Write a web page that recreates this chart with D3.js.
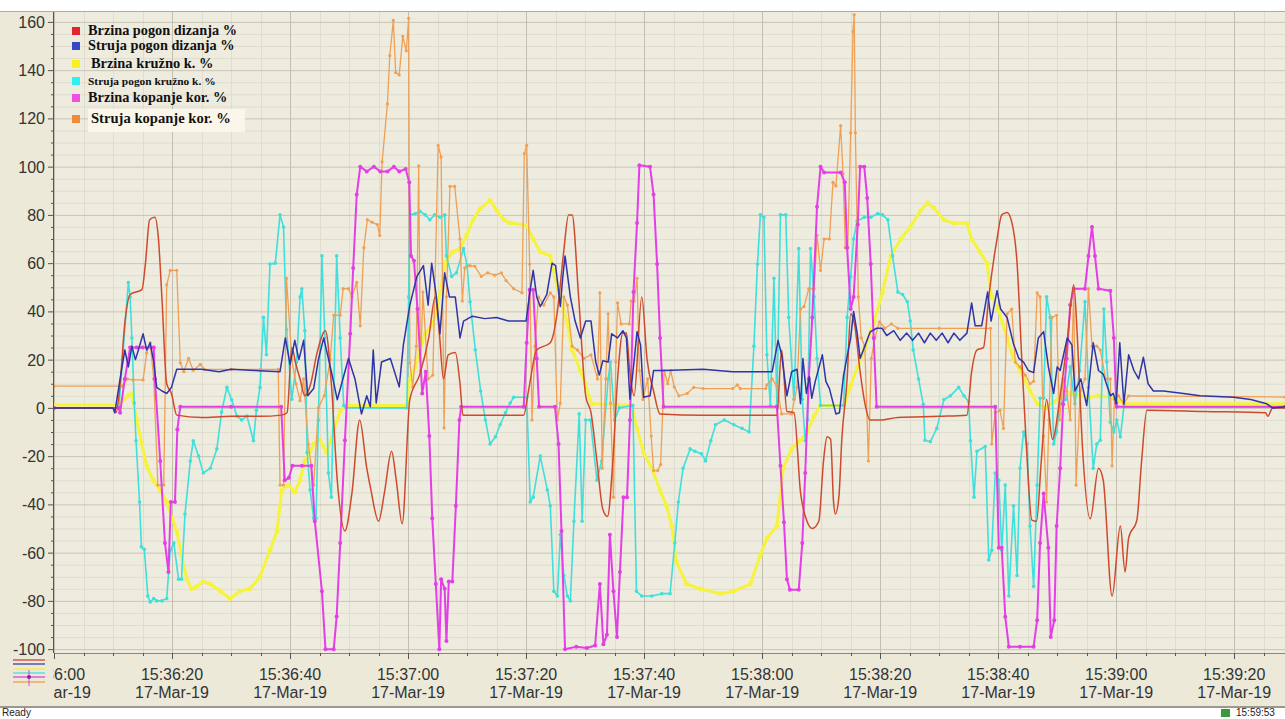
<!DOCTYPE html>
<html>
<head>
<meta charset="utf-8">
<script src="https://d3js.org/d3.v7.min.js"></script>
<style>
  body { margin: 0; background: #ece9d8; overflow: hidden; }
  svg { display: block; }
  .tick-label { font-family: "Liberation Sans", Arial, sans-serif; font-size: 16px; fill: #333; }
  .status-label { font-family: "Liberation Sans", Arial, sans-serif; font-size: 10px; fill: #222; }
  .legend-text { font-family: "Liberation Serif", "Times New Roman", serif; font-weight: bold; fill: #111; }
</style>
</head>
<body>
<svg width="1285" height="719"></svg>
<script>
// series names (legend order)
const seriesNames = [
  "Brzina pogon dizanja %",
  "Struja pogon dizanja %",
  "Brzina kružno k. %",
  "Struja pogon kružno k. %",
  "Brzina kopanje kor. %",
  "Struja kopanje kor. %"
];

// [seconds after 15:36:00, value %]
const brzinaDizanja = [[0,0],[10,0],[10.5,-2],[11.2,10],[12,35],[12.9,47],[14.9,49],[15.5,60],[16.2,78],[17.1,79],[17.7,70],[18.3,45],[19.1,10],[19.9,6],[20.8,-3],[25,-4],[30,-3.5],[35,-3.5],[38.5,-3],[39.5,-2],[40.3,25],[41,18],[41.7,12],[42.5,5],[43.5,10],[44.5,22],[46,32],[47,10],[48,-30],[49.3,-51],[50.5,-35],[51.8,-5],[53,-25],[53.7,-34],[55,-47],[56,-35],[57.2,-18],[58,-30],[59,-48],[60.3,3.5],[62,14],[63.5,29],[64.6,46],[65.3,31],[66,12],[66.8,22],[68,23],[68.8,10],[69.3,-3],[75,-3],[79.6,-3],[80.4,7],[81.8,24],[84.1,27],[85.3,40],[86.3,63],[87.2,80],[87.8,80],[88.9,46],[90.1,5],[91,-2],[92,-22],[93,-42],[93.8,-45],[94.7,-22],[95.5,12],[96.4,31],[97,31],[97.5,17],[98.3,5],[99.6,46],[100.5,20],[101.6,7],[102.7,-2.5],[110,-3],[122.5,-3],[123.3,24],[124.2,-1.5],[125.4,-2],[126.5,-35],[127.6,-47],[128.5,-50],[129.6,-47],[130.4,-22],[131,-12],[131.6,-13],[132.1,-39],[132.4,-44],[133,-37],[133.5,-13],[134.4,12],[135,39],[135.7,34],[136.6,15],[137.4,2],[138.3,-5],[140,-5],[143,-4],[150,-3.5],[154.7,-3],[155.5,15],[156.4,24],[157.5,25],[158.4,46],[159.8,70],[160.6,80],[161.5,81],[162.3,77],[163.2,60],[164,20],[164.8,-17],[165.7,-46.5],[166.5,-47],[167.3,-22],[168.2,3.5],[169.2,-13],[170.5,5],[171.8,30],[172.8,51],[173.4,30],[174.2,-13],[175.6,-46],[177,-25],[177.8,-30],[179.3,-78],[180.7,-49],[181.5,-68],[182.1,-54],[183.5,-46.5],[184.3,-22],[185.2,-1],[195,-1.5],[205.3,-2],[205.7,-3.5],[206.5,0],[208.6,0]];

const strujaDizanja = [[0,0],[10,0],[10.3,-2],[11.2,12],[12,24],[12.6,17],[13.2,25.6],[13.8,20],[14.3,24],[15.1,30.7],[15.7,24],[16.3,27],[16.9,19],[17.4,8.5],[18.3,7],[19.1,6],[19.9,8.5],[20.8,16],[25,16],[28,15],[30,16],[34,15.5],[38.3,15],[39.2,29],[40,18],[40.8,28],[41.5,20],[42.3,28],[43,5],[44,8],[44.8,20],[45.7,29],[47,15],[48,3.4],[49.9,20.5],[51,12],[52.1,-2.5],[53,5],[53.6,0.5],[54.1,24],[54.6,2],[55.5,19],[57,20.5],[58.5,8.7],[59.2,26],[60.3,42.6],[61.5,54.5],[62.6,59],[63.4,42.6],[64,60],[64.8,46],[65.4,30.7],[66.2,56],[67,46],[68,46],[68.8,29],[69.4,36],[70.9,38],[73,37],[75,37.5],[77,36],[80,36],[80.7,49],[81.2,57],[81.8,46],[82.4,42],[83.5,47],[84.4,60],[85,59],[85.8,42],[86.2,54],[86.6,63],[87.5,46],[88.3,36],[89.2,29],[90.1,36],[91,36],[91.8,19],[92.4,13.6],[93,19.5],[93.9,19],[94.5,30.7],[95.5,29],[96.4,32],[97,29],[97.6,3.6],[98.2,17],[98.8,31.6],[99.4,26],[99.9,4.4],[101,5],[101.6,15.5],[103.3,15.5],[110,16],[115,15],[120.8,15],[121.7,15],[122.7,28],[123.3,22],[124.2,5],[125,15],[125.9,16],[126.5,1.7],[126.9,20.5],[127.5,6],[128,13],[128.4,4],[129,11],[130.2,22],[130.8,11],[131.4,8],[132.5,-2.5],[133.1,-2],[133.8,13.6],[135,29],[135.5,40],[136.1,31],[136.6,20.5],[137.4,25.6],[138.3,31.5],[139.4,33],[140.3,33],[141.1,30],[142.3,32],[143.4,28],[144.5,31],[145.5,28],[146.5,31],[147.5,27],[148.5,31],[149.5,28],[150.5,31],[151.5,27],[152.5,31],[153.5,28],[154.7,31],[155.5,43.5],[156.1,34],[157.2,34],[158.2,48],[158.8,36],[159.8,48.6],[160.4,41],[161.5,37.5],[162.6,26.5],[163.5,20.5],[164.3,19],[165.1,15.5],[166,14.6],[166.8,29],[167.7,31.6],[168.5,17],[169.4,6],[170,17],[170.5,15.5],[171.7,29],[172.5,26],[173,7],[174,12],[175,1],[176.1,27],[177,15.5],[177.8,14],[179,5],[179.5,6],[180,1.7],[180.6,27],[181.3,1.5],[182.1,22],[183,15.5],[183.8,12],[184.6,21],[185.4,10],[186.3,7],[188,7],[191.4,6],[194.2,5],[199.9,4.4],[202.8,3.5],[205.5,1.7],[206.5,0],[208.6,0.5]];

const brzinaKruzno = [[0,1.2],[11,1.2],[12.6,5],[13.2,6],[14,-5],[14.9,-15],[15.7,-24],[16.8,-30],[18,-34],[19.1,-39],[20,-45.7],[20.8,-51],[21.6,-61],[22.5,-71],[23.3,-75],[24.2,-74],[25.3,-72],[26.5,-73],[28.2,-76],[29.8,-79],[31.5,-76],[33.2,-75],[34.9,-70],[36.6,-59],[37.8,-51],[38.6,-34],[39.7,-32],[40.8,-35],[41.7,-30],[42.5,-22],[43.4,-18],[44,-15],[45,-13],[46.2,-18.5],[47.3,-10],[48.5,-1.5],[49.3,1],[59.8,1],[60.3,12],[61.2,17],[62,24],[62.9,30.7],[63.9,34],[64.8,39],[65.9,54.5],[66.5,61],[67.6,64.7],[68.8,66],[69.9,71.5],[71,78],[72.2,82.5],[73.9,86],[75,82],[76.2,78],[77.3,76.6],[80.1,75.7],[81.2,70],[82.4,64.7],[84.1,63],[85.3,50],[86.9,36],[87.8,24],[89.2,15.5],[90,10],[91.1,1.7],[97.9,1],[98.8,-8.5],[99.9,-18.5],[101.3,-25],[102.7,-34],[103.8,-40.6],[104.7,-49],[105.5,-64],[107.2,-73],[109.5,-75],[112.9,-77],[115.2,-76],[118,-73],[119.7,-61],[120.8,-54],[122.5,-49],[123.6,-25],[125,-17],[126.5,-13.4],[127.6,-10],[128.8,-3.4],[129.9,1],[133.9,1],[135,9.5],[136.2,17],[137.3,24],[139,36],[140.4,48],[141.8,63],[143.5,70],[145.1,75],[146.8,81.5],[148,85],[149.1,83],[150.8,78],[152.5,76.5],[154.7,76.5],[155.5,70],[156.9,64.7],[158.1,60],[158.9,46],[160,41],[161.5,29],[162.6,20.5],[163.7,15.5],[165.4,7],[166.6,1.7],[168,0],[169.4,2.5],[170.5,4.4],[172.2,6],[173.9,5],[175.5,4.4],[177,5],[179,4.4],[180.5,3],[181.5,1.7],[208.6,1.7]];

const strujaKruzno = [[0,0],[11,0],[11.6,20],[12.6,52],[12.9,46],[13.2,29],[13.6,2],[13.9,-13.6],[14.5,-39],[14.8,-57.6],[15.3,-58.6],[15.9,-78],[16.3,-80.5],[16.9,-79],[17.4,-80],[18.3,-80],[19.1,-79],[19.7,-59],[20.3,-56],[21.1,-71],[21.6,-71],[22.2,-44],[23.1,-22],[23.6,-13.6],[24.5,-20],[25.3,-27],[26.5,-25],[27.6,-17],[28.4,-1.7],[29.3,8.5],[30.1,3.4],[31,-3.4],[31.8,-5],[32.7,-3.4],[33.8,-13.6],[34.3,-1],[34.9,8.5],[35.5,37.5],[36,22],[36.6,59.6],[37.5,60],[38.3,80],[38.9,75],[39.4,32.4],[40.3,3.6],[41.1,19],[41.7,46],[42,49.4],[42.5,32],[42.9,-18.5],[43.4,-34],[44,-45.7],[44.4,-45.7],[44.8,-5],[45.4,63],[45.9,29],[46.5,-27],[47,-37],[47.9,63],[48.5,29],[49.1,1],[49.5,0],[59.8,0],[60.1,46],[60.3,80],[61.2,80.5],[62,81.5],[62.9,80],[63.7,78],[64.5,80],[65.4,79],[66.2,80],[66.5,63],[67.4,54.5],[68.2,56],[69.4,66],[70,59],[70.5,44],[71.4,24],[72.3,7],[73.1,-5],[73.9,-15],[74.8,-12],[75.6,-7],[76.5,-2],[77.3,2],[77.9,4.4],[80.1,4.4],[80.7,-39],[81.2,-37],[82.4,-20],[83.6,-34],[84.1,-40.6],[84.7,-76],[85.3,-78],[85.8,-52.5],[86.4,-69.5],[87,-78],[87.5,-80],[88.1,-47],[89,-2.5],[89.5,-47],[90.1,-5],[90.9,-5],[92,-30],[92.8,-22],[93.9,12],[94.3,19],[95,-5],[95.8,0],[98.1,1],[98.7,-76],[99.6,-78],[101.3,-78],[103,-77],[104.4,-77],[105.2,-56],[105.8,-39],[106.6,-25],[107.8,-17],[108.6,-18],[109.7,-19],[110.4,-22],[111.3,-13.6],[112.1,-7],[113.6,-5],[115.2,-7],[116.6,-8.5],[117.8,-10],[118.6,25.6],[119.2,59.6],[119.7,80],[120.3,79],[120.8,22],[121.4,1],[122,53.7],[122.5,1],[123.1,80],[124,80],[124.5,37.5],[125.4,3.6],[126.2,66],[126.8,3.6],[127.3,-13.6],[127.7,-5],[128.2,66],[128.8,46],[129.3,20.5],[129.9,1],[133.8,1],[134.4,37.5],[135,54.5],[135.5,70],[136.1,77.5],[137.3,79],[138.4,79],[139.6,80.6],[140.4,80],[141.3,78],[142.1,63],[143,48],[143.8,47],[144.6,44],[145.1,36],[145.6,24],[146.5,12],[147.3,1.5],[147.6,-13.4],[148.5,-14],[149.6,-8.5],[150.8,3.5],[151.9,5],[153.3,8.5],[154.2,5],[155,2.5],[155.3,-13.6],[155.9,-37],[156.4,-18],[157.8,-16],[158.4,-63],[158.9,-59],[159.5,-27],[160.1,-30],[160.6,-59],[161.2,-32],[161.8,-78],[162.6,-40.6],[163.2,-69.5],[163.7,-25],[164.3,-10],[164.9,-15],[165.4,-49],[166,-74],[166.6,-32],[167.1,4],[167.7,4],[168.2,46],[168.8,37.5],[169.4,-15],[169.9,-10],[170.5,1.7],[171.4,3.5],[172.2,17],[173,1.7],[173.8,15.5],[174.7,44],[175.3,8.5],[176.1,-25],[176.7,-15],[177.3,-13.4],[177.9,41],[178.4,19],[179,-6],[179.6,-10],[180.1,-5],[180.7,-12],[181.3,0.5],[208.6,0.5]];

const brzinaKopanje = [[0,0],[11,0],[11.2,-2],[12,12],[12.9,25],[14,25],[15,25],[16.9,25],[17.1,12],[18,-22],[18.8,-56],[19.4,-68],[19.8,-39],[20.5,-39],[20.9,-9],[21.4,0.5],[30,0.5],[38.5,0.5],[39.1,-30],[39.8,-29],[40.4,-24],[42,-24],[43.6,-24],[44.2,-47],[45.4,-76],[46,-100],[47.4,-100],[47.9,-86.5],[48.5,-56],[49.3,-13.4],[50.2,30.7],[50.7,58],[51.3,88.5],[51.9,100],[53,98],[54.2,100],[55.3,98],[56.5,98],[57.6,100],[58.5,98],[59.6,99],[60.2,93.5],[60.5,63],[61,61],[61.6,41],[62.4,6],[63,15],[63.6,-11.7],[64.1,-45.7],[64.7,-73],[65.3,-100],[65.6,-71],[66.2,-75],[66.5,-96.6],[66.9,-72],[67.5,-72],[68.1,-40.6],[68.7,-5],[69,0.5],[79.6,0.5],[80.1,27],[80.6,49],[81.2,49],[81.8,20.5],[82.2,0.5],[84.9,0.5],[85.5,-15],[86,-51],[86.6,-100],[88.5,-99],[90.3,-99.5],[91.7,-98.5],[92.5,-73],[93.1,-98],[93.7,-94],[94.2,-52.6],[94.8,-76],[95.4,-95],[95.9,-68],[96.5,-37],[97.1,-37],[97.6,-5],[98.2,48],[98.8,76.6],[99.2,100.6],[101,100],[101.6,88.5],[102.2,59.6],[102.7,29],[103.3,0.5],[122.5,0.5],[123.1,-24],[123.7,-47.4],[124.2,-71],[124.7,-75.4],[126.2,-75.4],[126.8,-56],[127.3,-27],[127.9,12],[128.5,37.5],[129.3,83.4],[129.9,100],[130.5,97.6],[133.3,97.6],[134,93.5],[134.4,66.4],[135,41],[135.5,46],[136.2,76],[136.6,100],[137.3,100],[137.8,87],[138.4,59.6],[138.9,29],[139.4,0.5],[159.5,0.5],[160.1,-58],[160.6,-58],[161.2,-86.6],[161.8,-99],[163.7,-99],[166,-99],[166.6,-88],[167.1,-56],[167.7,-35.5],[168.5,-58],[168.9,-95],[169.5,-88],[169.9,-49],[170.5,-25],[171,1.5],[171.6,20.5],[172.2,42.6],[172.8,49.4],[174.7,49.4],[175.3,63],[175.9,75],[176.4,63],[177,49.4],[179,48.6],[179.6,29],[180,2],[180.1,0.5],[208.6,0.5]];

const strujaKopanje = [[0,9],[11.5,9],[12.4,12],[13.4,11.6],[15.1,11.6],[15.7,22.8],[16.3,27],[16.9,12],[17.6,-32],[18.6,-32],[19.1,51],[19.7,57],[20.8,57],[21.4,18.7],[22,15],[22.8,20.5],[23.6,15.6],[24.8,18],[25.5,16],[30,16],[35,16],[38,16],[38.3,-32],[38.9,-32],[39.4,53.7],[40.3,20],[41,10],[41.7,3],[42.3,12],[43.1,-15],[44,-32],[44.8,0],[45.8,5],[46.8,20],[47.4,38.4],[48.5,38.4],[49,49.4],[49.9,49.4],[50.5,46],[51.3,52],[51.9,34],[52.5,66.4],[53.1,78],[53.9,77],[54.8,76],[55.2,71.5],[55.6,102],[56.5,126],[56.9,146],[57.5,160.6],[57.9,139],[58.5,138],[59.1,154],[59.7,148],[60.1,161.5],[60.3,18.7],[60.8,8.7],[61.4,25.6],[61.8,100.3],[62.1,15.5],[62.5,48],[63.4,12],[64.2,13.6],[65.1,108.8],[65.6,104],[66.1,-8.3],[66.5,46],[67.1,91.8],[67.9,91.8],[68.8,70],[69.2,44.3],[69.6,58],[70.5,59],[71.3,58.7],[72.4,54.5],[73.5,56],[74.7,55],[75.8,56],[76.6,52.8],[77.9,49.4],[79.3,47.7],[79.7,105.4],[80.1,108.8],[80.6,59.6],[81,-5],[81.5,25.6],[82.1,46],[83,42.6],[84.1,47.7],[84.7,46],[85.3,-5],[85.8,2],[86.4,46],[87,42.6],[87.8,25.6],[88.7,24],[89.8,20.5],[91,22],[92.1,12],[92.5,47.7],[92.9,-25],[93.5,12],[93.9,39],[94.3,2],[94.8,-37],[95.2,19],[95.5,43.5],[96.1,34.8],[97.5,34.8],[97.8,44.3],[98.3,44.3],[98.8,53.7],[99.2,15.5],[99.8,3.5],[100.6,12],[101.2,-11.7],[101.6,-26],[102.3,-26],[102.8,-23.5],[103.4,15.5],[104,10],[104.5,15.5],[105.1,8.7],[105.9,5],[107.3,6],[108.4,8.5],[110,8],[115,8],[115.8,9.5],[116.3,8],[120.6,8],[120.8,9.5],[121.7,12],[122.5,9],[123.3,-2.5],[125,-2.5],[125.9,8.5],[126.5,41],[127.1,42],[127.9,49.4],[128.8,49.4],[129.3,71.5],[129.9,57],[130.5,70],[131.4,70],[132,93.5],[132.5,92],[133.3,117],[133.7,97],[134.1,66.4],[134.5,66.4],[135,114],[135.4,156],[135.6,163],[135.8,114],[136.3,46],[136.8,29],[137.4,25.6],[138,-22],[138.5,20.5],[139.1,29],[139.9,35.7],[140.8,33],[141.9,34.8],[143,33],[150,33],[158.7,33],[158.9,-15],[159.5,-2],[160.3,-1],[160.9,-8.5],[161.5,39],[162.3,41],[162.9,19],[163.7,17],[164.6,13.6],[165.4,10],[166,11],[166.6,47.7],[167.1,46],[167.7,-11.7],[168.2,-39],[168.6,-5],[169.1,37.5],[169.9,38.4],[170.4,-5],[171,12],[171.6,7],[172.2,-5],[172.8,49.4],[173.2,-32],[173.9,7],[174.7,12],[175.3,49.4],[175.9,25.6],[176.7,25.6],[177.3,24],[178.2,12],[179,12],[179.3,-24],[179.7,3.5],[180.4,5],[181.3,1.7],[182.1,5],[208.6,4.5]];

// axis settings
const yMajorTicks = [-100, -80, -60, -40, -20, 0, 20, 40, 60, 80, 100, 120, 140, 160];
const startTime = new Date(2019, 2, 17, 15, 36, 0);
const endSeconds = 208.6;

const svg = d3.select("svg");
const W = 1285, H = 719;
const plot = { left: 54, right: 1285, top: 12, bottom: 653 };

const toDate = s => new Date(startTime.getTime() + s * 1000);
const x = d3.scaleTime().domain([startTime, toDate(endSeconds)]).range([plot.left, plot.right]);
const y = d3.scaleLinear().domain([-101.6, 164.1]).range([plot.bottom, plot.top]);

// background pieces
svg.append("rect").attr("width", W).attr("height", H).attr("fill", "#ece9d8");
svg.append("rect").attr("width", W).attr("height", 11).attr("fill", "#ffffff");
svg.append("line").attr("x1", 0).attr("x2", W).attr("y1", 11.5).attr("y2", 11.5).attr("stroke", "#b0ada0");
svg.append("rect").attr("x", plot.left).attr("y", plot.top)
  .attr("width", plot.right - plot.left).attr("height", plot.bottom - plot.top)
  .attr("fill", "#eeebdf");

// clip for the plot area
svg.append("defs").append("clipPath").attr("id", "plotClip")
  .append("rect").attr("x", plot.left).attr("y", plot.top)
  .attr("width", plot.right - plot.left).attr("height", plot.bottom - plot.top);
svg.select("defs").append("clipPath").attr("id", "labelClip")
  .append("rect").attr("x", 53).attr("y", plot.bottom).attr("width", W).attr("height", 60);

const grid = svg.append("g").attr("clip-path", "url(#plotClip)");

// minor grid lines
const yMinor = d3.range(-100, 165, 5).filter(v => v % 20 !== 0);
grid.selectAll(".ygm").data(yMinor).enter().append("line")
  .attr("x1", plot.left).attr("x2", plot.right)
  .attr("y1", d => y(d) + 0.5).attr("y2", d => y(d) + 0.5)
  .attr("stroke", "#e0ddcf");
const xMinor = x.ticks(d3.timeSecond.every(5)).filter(d => d.getSeconds() % 20 !== 0);
grid.selectAll(".xgm").data(xMinor).enter().append("line")
  .attr("x1", d => Math.round(x(d)) + 0.5).attr("x2", d => Math.round(x(d)) + 0.5)
  .attr("y1", plot.top).attr("y2", plot.bottom)
  .attr("stroke", "#e0ddcf");

// major grid lines
grid.selectAll(".ygM").data(yMajorTicks).enter().append("line")
  .attr("x1", plot.left).attr("x2", plot.right)
  .attr("y1", d => y(d) + 0.5).attr("y2", d => y(d) + 0.5)
  .attr("stroke", "#c9c5b6");
const xMajor = x.ticks(d3.timeSecond.every(20));
grid.selectAll(".xgM").data(xMajor).enter().append("line")
  .attr("x1", d => Math.round(x(d)) + 0.5).attr("x2", d => Math.round(x(d)) + 0.5)
  .attr("y1", plot.top).attr("y2", plot.bottom)
  .attr("stroke", "#c2beb0");

// series drawing
const series = [
  { data: brzinaKruzno, color: "#f6f33c", width: 3, dot: 2.4, curve: d3.curveLinear },
  { data: strujaKruzno, color: "#3fe0dc", width: 1.6, dot: 1.8, curve: d3.curveLinear },
  { data: strujaKopanje, color: "#f0a055", width: 1.3, dot: 1.6, curve: d3.curveLinear },
  { data: brzinaKopanje, color: "#e43ee6", width: 2, dot: 2, curve: d3.curveLinear },
  { data: brzinaDizanja, color: "#cf4a2c", width: 1.5, dot: 0, curve: d3.curveMonotoneX },
  { data: strujaDizanja, color: "#2f34a8", width: 1.5, dot: 0, curve: d3.curveLinear }
];

const line = d3.line().x(d => x(toDate(d[0]))).y(d => y(d[1]));
const marks = svg.append("g").attr("clip-path", "url(#plotClip)");

series.forEach(s => {
  marks.append("path")
    .datum(s.data)
    .attr("fill", "none")
    .attr("stroke", s.color)
    .attr("stroke-width", s.width)
    .attr("stroke-linejoin", "round")
    .attr("d", line.curve(s.curve));
  if (s.dot > 0) {
    marks.selectAll(null).data(s.data).enter().append("circle")
      .attr("cx", d => x(toDate(d[0])))
      .attr("cy", d => y(d[1]))
      .attr("r", s.dot)
      .attr("fill", s.color);
  }
});

// y axis
svg.append("line").attr("x1", plot.left - 0.5).attr("x2", plot.left - 0.5)
  .attr("y1", plot.top).attr("y2", plot.bottom).attr("stroke", "#555");
svg.selectAll(".ytm").data(yMinor).enter().append("line")
  .attr("x1", plot.left - 3).attr("x2", plot.left)
  .attr("y1", d => y(d) + 0.5).attr("y2", d => y(d) + 0.5).attr("stroke", "#555");
svg.selectAll(".ytM").data(yMajorTicks).enter().append("line")
  .attr("x1", plot.left - 6).attr("x2", plot.left)
  .attr("y1", d => y(d) + 0.5).attr("y2", d => y(d) + 0.5).attr("stroke", "#555");
svg.selectAll(".ylab").data(yMajorTicks).enter().append("text")
  .attr("class", "tick-label")
  .attr("x", 45).attr("y", d => y(d) + 6)
  .attr("text-anchor", "end")
  .text(d => d);

// x axis
svg.append("line").attr("x1", plot.left).attr("x2", plot.right)
  .attr("y1", plot.bottom + 0.5).attr("y2", plot.bottom + 0.5).attr("stroke", "#8a887e");
svg.selectAll(".xtm").data(xMinor).enter().append("line")
  .attr("x1", d => Math.round(x(d)) + 0.5).attr("x2", d => Math.round(x(d)) + 0.5)
  .attr("y1", plot.bottom).attr("y2", plot.bottom + 3).attr("stroke", "#555");
svg.selectAll(".xtM").data(xMajor).enter().append("line")
  .attr("x1", d => Math.round(x(d)) + 0.5).attr("x2", d => Math.round(x(d)) + 0.5)
  .attr("y1", plot.bottom).attr("y2", plot.bottom + 6).attr("stroke", "#555");

const fmtTime = d3.timeFormat("%H:%M:%S");
const fmtDate = d3.timeFormat("%d-%b-%y");
const xl = svg.append("g").attr("clip-path", "url(#labelClip)");
xl.selectAll(".xl1").data(xMajor).enter().append("text")
  .attr("class", "tick-label")
  .attr("x", d => x(d)).attr("y", 680)
  .attr("text-anchor", "middle")
  .text(d => fmtTime(d));
xl.selectAll(".xl2").data(xMajor).enter().append("text")
  .attr("class", "tick-label")
  .attr("x", d => x(d)).attr("y", 698)
  .attr("text-anchor", "middle")
  .text(d => fmtDate(d));

// small legend glyph bottom-left
const glyphColors = ["#d04040", "#3a40b0", "#f0f040", "#40e0e0", "#e040e0", "#f0a050"];
const glyphY = [660, 664, 669, 673, 677, 682];
svg.selectAll(".glyph").data(glyphColors).enter().append("line")
  .attr("x1", 13).attr("x2", 45)
  .attr("y1", (d, i) => glyphY[i]).attr("y2", (d, i) => glyphY[i])
  .attr("stroke", d => d).attr("stroke-width", 1.3);
svg.append("line").attr("x1", 29).attr("x2", 29).attr("y1", 670).attr("y2", 686)
  .attr("stroke", "#e040e0");
svg.append("circle").attr("cx", 29).attr("cy", 677).attr("r", 2).attr("fill", "#9020a0");

// status bar
svg.append("rect").attr("x", 0).attr("y", 707).attr("width", W).attr("height", 12).attr("fill", "#ffffff");
svg.append("line").attr("x1", 0).attr("x2", W).attr("y1", 707).attr("y2", 707)
  .attr("stroke", "#9a9890").attr("stroke-width", 2);
svg.append("text").attr("class", "status-label").attr("x", 2).attr("y", 716).text("Ready");
svg.append("rect").attr("x", 1221).attr("y", 709).attr("width", 9).attr("height", 8).attr("fill", "#3a9a3a");
svg.append("text").attr("class", "status-label").attr("x", 1236).attr("y", 716).text("15:59:53");

// chart legend
const legendColors = ["#e4242c", "#3848c0", "#f8f020", "#30f0f0", "#f050e0", "#f08a38"];
const legendBase = [35, 50, 68, 85, 102, 123];
const legendSize = [14.3, 14.3, 14.4, 11.4, 14.3, 14.6];
const legendX = [88, 88, 91, 88, 88, 91];

svg.append("rect").attr("x", 88).attr("y", 109).attr("width", 157).attr("height", 23)
  .attr("fill", "#faf7ea");
svg.selectAll(".lsw").data(legendColors).enter().append("rect")
  .attr("x", 72).attr("y", (d, i) => legendBase[i] - 8)
  .attr("width", 8).attr("height", 8)
  .attr("fill", d => d);
svg.selectAll(".ltx").data(seriesNames).enter().append("text")
  .attr("class", "legend-text")
  .attr("x", (d, i) => legendX[i]).attr("y", (d, i) => legendBase[i])
  .style("font-size", (d, i) => legendSize[i] + "px")
  .text(d => d);
</script>
</body>
</html>
